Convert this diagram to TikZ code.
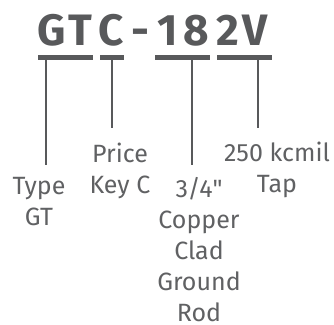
\documentclass[tikz,border=0pt]{standalone}
\usepackage{fontspec}
\setmainfont{Fira Sans}
\newfontfamily\inchfont{Fira Sans}
\usepackage{tikz}
\usetikzlibrary{positioning}
\definecolor{mygray}{RGB}{88,89,91}
\definecolor{mytext}{RGB}{96,97,99}
\tikzset{
  partno/.style={font=\fontsize{44}{44}\selectfont\bfseries, text=mygray,
    anchor=base, inner sep=0pt},
  underbar/.style={rectangle, fill=mygray, minimum height=5pt, inner sep=0pt},
  leader/.style={line width=2.5pt, color=mygray},
  desc/.style={font=\fontsize{25}{31}\selectfont, text=mytext, align=center,
    anchor=north, inner sep=0pt}
}
\begin{document}
\begin{tikzpicture}[x=1pt,y=-1pt]
  \useasboundingbox (0,0) rectangle (334,324);

  % Part number
  \node[partno] (g) at (51.5,45) {G};
  \node[partno] (t) at (80,45) {T};
  \node[partno] (c) at (111,45) {C};
  \node[partno] (dash) at (140,45) {-};
  \node[partno] (one) at (168,45) {1};
  \node[partno] (eight) at (196,45) {8};
  \node[partno] (two) at (228,45) {2};
  \node[partno] (v) at (255,45) {V};

  % Bars under each field
  \node[underbar, minimum width=55pt] (bar1) at (65.5,57.5) {};
  \node[underbar, minimum width=24pt] (bar2) at (112,57.5) {};
  \node[underbar, minimum width=55pt] (bar3) at (182.5,57.5) {};
  \node[underbar, minimum width=55pt] (bar4) at (244.5,57.5) {};

  % Leader ends
  \coordinate (e1) at (46,165);
  \coordinate (e2) at (112,128);
  \coordinate (e3) at (192,165);
  \coordinate (e4) at (258,128);
  \draw[leader] (bar1.south -| e1) -- (e1);
  \draw[leader] (bar2.south -| e2) -- (e2);
  \draw[leader] (bar3.south -| e3) -- (e3);
  \draw[leader] (bar4.south -| e4) -- (e4);

  % Descriptions
  \node[desc] (type) at (39,177) {Type\\GT};
  \node[desc] (price) at (120,143) {Price\\Key C};
  \node[desc] (rod) at (199,177) {3/4{\inchfont"}\\Copper\\Clad\\Ground\\Rod};
  \node[desc] (kcmil) at (277,142) {250 kcmil\\Tap};
\end{tikzpicture}
\end{document}
